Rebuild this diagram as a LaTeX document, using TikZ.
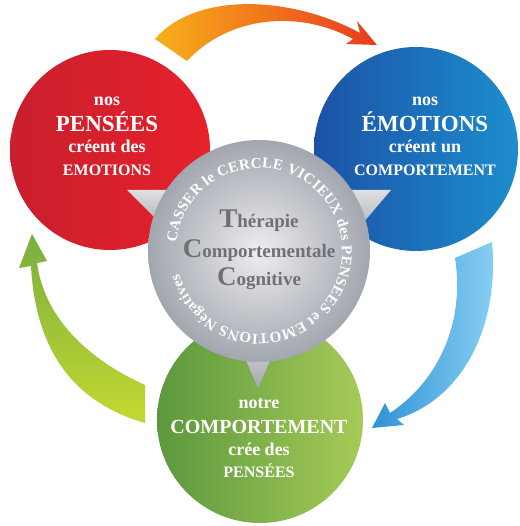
\documentclass[tikz,border=0pt]{standalone}
\usepackage{fontspec}
\setmainfont{Liberation Serif}
\usepackage{tikz}
\usetikzlibrary{decorations.text}

\definecolor{redL}{HTML}{C91F2E}
\definecolor{redR}{HTML}{E6212A}
\definecolor{blueL}{HTML}{1C52A6}
\definecolor{blueR}{HTML}{1C8DCD}
\definecolor{greenL}{HTML}{5C983E}
\definecolor{greenR}{HTML}{A6CA57}
\definecolor{greyIn}{HTML}{EDEEF0}
\definecolor{greyOut}{HTML}{A2A6AE}
\definecolor{greyTxt}{HTML}{6E7074}
\definecolor{orgA}{HTML}{F8B01A}
\definecolor{orgB}{HTML}{E83A1F}
\definecolor{arrBlueA}{HTML}{2E92D6}
\definecolor{arrBlueB}{HTML}{8CD2F3}
\definecolor{arrGreenA}{HTML}{78AE40}
\definecolor{arrGreenB}{HTML}{C4D930}

\begin{document}
\begin{tikzpicture}[
                            x=1pt,
                            y=-1pt,
                            bubble/.style={circle,inner sep=0pt,minimum size=#1},
                            txt/.style={anchor=base,text=white,font=\bfseries\fontsize{#1}{#1}\selectfont},
                            gtxt/.style={anchor=base,text=greyTxt,font=\bfseries\fontsize{#1}{#1}\selectfont},
                            tail/.style={top color=greyIn!80!greyOut,bottom color=greyOut}
                        ]
                        \useasboundingbox (0,0) rectangle (519,526);

                        % arrows of the cycle
                        \shade[left color=orgA,right color=orgB]
                            (155,39) .. controls (195,-8) and (290,-5) .. (360,33)
                            -- (357,21) -- (377,45) -- (346,44) -- (353,39)
                            .. controls (300,10) and (230,15) .. (187,61) -- cycle;
                        \shade[left color=arrBlueA,right color=arrBlueB]
                            (492,242) .. controls (500,330) and (460,400) .. (397,419)
                            -- (404,425) -- (372,428) -- (385,403) -- (390,413)
                            .. controls (440,380) and (465,320) .. (455,258) -- cycle;
                        \shade[top color=arrGreenA,bottom color=arrGreenB]
                            (145,423) .. controls (65,400) and (35,340) .. (31,266)
                            -- (19,268) -- (32,234) -- (47,261) -- (37,263)
                            .. controls (45,320) and (90,360) .. (145,385) -- cycle;

                        \node[bubble=200pt,left color=redL,right color=redR]     (pens) at (110,150) {};
                        \node[bubble=204pt,left color=blueL,right color=blueR]   (emo)  at (416,149) {};
                        \node[bubble=206pt,left color=greenL,right color=greenR] (comp) at (260,420) {};

                        % tails of the centre
                        \shade[tail] (127,190) -- (180,190) -- (172,235) -- cycle;
                        \shade[tail] (391,190) -- (338,190) -- (346,243) -- cycle;
                        \shade[tail] (258,388) -- (234,333) -- (282,333) -- cycle;

                        \node[bubble=222pt,inner color=greyIn,outer color=greyOut] (tcc) at (259,251) {};

                        \path[decorate,decoration={text along path,text color=white,
                              text={|\bfseries\fontsize{15}{15}\selectfont|CASSER le CERCLE VICIEUX des PENSEES et EMOTIONS Négatives},
                              text align=fit to path}]
                            (tcc.center) ++(186:83) arc[start angle=186,end angle=524,radius=83];

                        \node[txt=18] (p1) at (107,106) {nos};
                        \node[txt=23] (p2) at (107,132) {PENSÉES};
                        \node[txt=18] (p3) at (107,153) {créent des};
                        \node[txt=16] (p4) at (107,176) {EMOTIONS};

                        \node[txt=18] (e1) at (425,106) {nos};
                        \node[txt=23] (e2) at (425,132) {ÉMOTIONS};
                        \node[txt=18] (e3) at (425,153) {créent un};
                        \node[txt=16] (e4) at (425,176) {COMPORTEMENT};

                        \node[txt=18] (c1) at (259,408) {notre};
                        \node[txt=20] (c2) at (259,433) {COMPORTEMENT};
                        \node[txt=18] (c3) at (259,455) {crée des};
                        \node[txt=16] (c4) at (259,477) {PENSÉES};

                        \node[gtxt=19] (t1) at (259,228) {{\fontsize{27}{27}\selectfont T}hérapie};
                        \node[gtxt=19] (t2) at (259,257) {{\fontsize{27}{27}\selectfont C}omportementale};
                        \node[gtxt=19] (t3) at (259,285) {{\fontsize{27}{27}\selectfont C}ognitive};
                    \end{tikzpicture}
\end{document}
